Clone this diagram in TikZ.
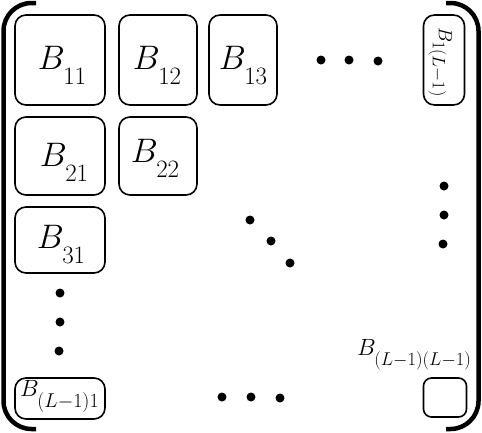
\RequirePackage{fix-cm}
\documentclass[tikz,border=0pt]{standalone}
% block label: big B with a subscript set well below its baseline
% #1 = size of B, #2 = size of subscript, #3 = drop of subscript, #4 = subscript
\newcommand\Blabel[4]{{\fontsize{#1}{#1}\selectfont$B$}\kern-1.5pt\raisebox{-#3}{\fontsize{#2}{#2}\selectfont$#4$}}
\newcommand\Bbig[1]{\Blabel{34pt}{25pt}{15pt}{#1}}
\begin{document}
\begin{tikzpicture}[x=1pt,y=-1pt,
  blk/.style={draw,line width=1.6pt,rounded corners=11pt,inner sep=0pt},
  lbl/.style={inner sep=0pt},
  dotmark/.style={circle,fill,inner sep=0pt,minimum size=9pt},
  bracket/.style={line width=4.5pt,rounded corners=28pt}]
\useasboundingbox (0,0) rectangle (482,432);

% matrix brackets
\draw[bracket] (36,3) -- (3.5,3) -- (3.5,429) -- (36,429);
\draw[bracket] (446,3) -- (478.5,3) -- (478.5,429) -- (446,429);

% first block row
\node[blk,minimum width=90pt,minimum height=90pt] (b11) at (60,60) {};
\node[blk,minimum width=78pt,minimum height=90pt] (b12) at (158,60) {};
\node[blk,minimum width=68pt,minimum height=90pt] (b13) at (243,60) {};
\node[blk,minimum width=41pt,minimum height=90pt] (b1L) at (444,60) {};
\node[lbl] (b11t) at ([shift={(2,5)}]b11.center) {\Bbig{11}};
\node[lbl] (b12t) at ([shift={(-1,5)}]b12.center) {\Bbig{12}};
\node[lbl] (b13t) at ([shift={(0,5)}]b13.center) {\Bbig{13}};
\node[lbl,rotate=-90] (b1Lt) at (440,62) {\Blabel{19pt}{18pt}{6pt}{1(L{-}1)}};

% second and third block rows
\node[blk,minimum width=90pt,minimum height=78pt] (b21) at (60,156) {};
\node[blk,minimum width=78pt,minimum height=78pt] (b22) at (158,156) {};
\node[blk,minimum width=90pt,minimum height=66pt] (b31) at (60,240) {};
\node[lbl] (b21t) at ([shift={(4,6)}]b21.center) {\Bbig{21}};
\node[lbl] (b22t) at ([shift={(-3,2)}]b22.center) {\Bbig{22}};
\node[lbl] (b31t) at ([shift={(1,4)}]b31.center) {\Bbig{31}};

% last block row
\node[blk,minimum width=90pt,minimum height=41pt] (bL1) at (60,398.5) {};
\node[lbl,anchor=base west] (bL1t) at (20,396) {\Blabel{23.5pt}{20pt}{11pt}{(L{-}1)1}};
\node[blk,minimum width=43pt,minimum height=39pt,rounded corners=8pt] (bLL) at (445,397.5) {};
\node[lbl,anchor=base west] (bLLt) at (357,355) {\Blabel{23.5pt}{18.5pt}{10pt}{(L{-}1)(L{-}1)}};

% ellipsis dots
\node[dotmark] (h1) at (321,60) {};
\node[dotmark] (h2) at (349,60) {};
\node[dotmark] (h3) at (378,61) {};
\node[dotmark] (r1) at (444,186) {};
\node[dotmark] (r2) at (444,215) {};
\node[dotmark] (r3) at (443,244) {};
\node[dotmark] (d1) at (250,220) {};
\node[dotmark] (d2) at (271,241) {};
\node[dotmark] (d3) at (290,263) {};
\node[dotmark] (v1) at (60,293) {};
\node[dotmark] (v2) at (60,322) {};
\node[dotmark] (v3) at (59,351) {};
\node[dotmark] (g1) at (222,397) {};
\node[dotmark] (g2) at (251,397) {};
\node[dotmark] (g3) at (280,398) {};
\end{tikzpicture}
\end{document}
